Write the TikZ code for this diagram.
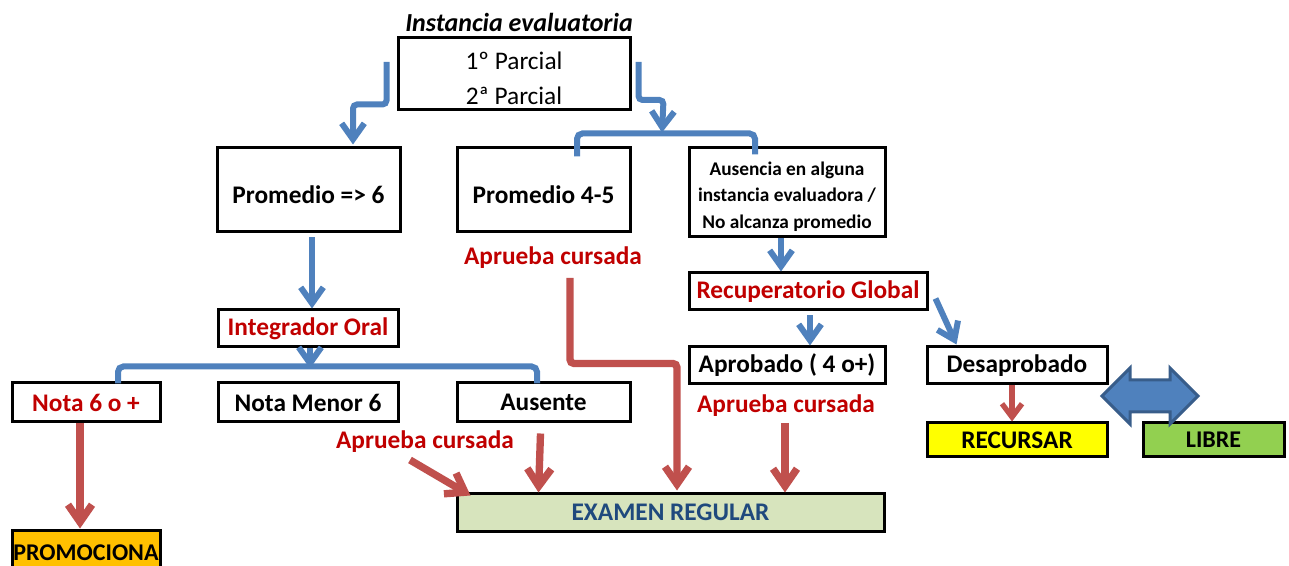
\documentclass[tikz,border=0pt]{standalone}
\usepackage{fontspec}
\setmainfont{Carlito}
\usetikzlibrary{arrows.meta,calc}
\definecolor{bl}{HTML}{4F81BD}
\definecolor{bld}{HTML}{385D8A}
\definecolor{rd}{HTML}{C0504D}
\definecolor{rt}{HTML}{C00000}
\definecolor{dbt}{HTML}{1F497D}
\definecolor{orng}{HTML}{FFC000}
\definecolor{ylw}{HTML}{FFFF00}
\definecolor{grn}{HTML}{92D050}
\definecolor{lgrn}{HTML}{D7E4BD}
\begin{document}
\begin{tikzpicture}[x=0.75pt,y=-0.75pt,
 box/.style={draw=black,line width=2.25pt,inner sep=0pt,font=\fontsize{19}{23}\selectfont\bfseries},
 sz/.style 2 args={minimum width=#1*0.75pt,minimum height=#2*0.75pt},
 lbl/.style={font=\fontsize{19}{23}\selectfont\bfseries,text=rt,inner sep=0pt},
 barrow/.style={draw=bl,line width=4.5pt,-{Straight Barb[length=12pt,width=17pt]}},
 rarrow/.style={draw=rd,line width=5.5pt,-{Straight Barb[length=13pt,width=18pt]}},
 bline/.style={draw=bl,line width=4.5pt,rounded corners=4pt},
]
\useasboundingbox (0,0) rectangle (1289,566);

% top
\node[box,sz={232}{72},font=\fontsize{19}{26.25}\selectfont] (ie) at (514,74)
 {\raisebox{0pt}[\height][\dimexpr\depth-9pt\relax]{\begin{tabular}{@{}c@{}}1º Parcial\\2ª Parcial\end{tabular}}};
\node[inner sep=0pt,font=\fontsize{19.5}{23}\selectfont\bfseries\itshape] (title) at (519,22) {Instancia evaluatoria};

% row 2
\node[box,sz={183}{84}] (p6) at (308.5,190) {\raisebox{0pt}[\dimexpr\height+7.5pt\relax]{Promedio => 6}};
\node[box,sz={173}{84}] (p45) at (543.5,190) {\raisebox{0pt}[\dimexpr\height+7.5pt\relax]{Promedio 4-5}};
\node[box,sz={196}{89},font=\fontsize{14.5}{19.9}\selectfont\bfseries] (aus) at (787,192.5)
 {\raisebox{0pt}[\height][\dimexpr\depth-6pt\relax]{\begin{tabular}{@{}c@{}}Ausencia en alguna\\instancia evaluadora /\\No alcanza promedio\end{tabular}}};
\node[lbl] (ac1) at (553,258) {Aprueba cursada};

% left branch
\node[box,sz={180}{37},text=rt] (io) at (308,328.5) {Integrador Oral};
\node[box,sz={148}{39},text=rt] (n6) at (86,402.5) {Nota 6 o +};
\node[box,sz={180}{39}] (nm6) at (308,402.5) {Nota Menor 6};
\node[box,sz={173}{39}] (au) at (543.5,402.5) {Ausente};
\node[lbl] (ac2) at (425,442) {Aprueba cursada};
\node[box,sz={148}{46},fill=orng,font=\fontsize{18}{22}\selectfont\bfseries] (prom) at (86,553) {PROMOCIONA};
\node[box,sz={427}{38},fill=lgrn,text=dbt,font=\fontsize{19}{23}\selectfont\bfseries] (ex) at (670.5,512) {EXAMEN REGULAR};

% right branch
\node[box,sz={238}{37},text=rt] (rg) at (808,291.5) {Recuperatorio Global};
\node[box,sz={196}{37}] (apr) at (787,365.5) {Aprobado ( 4 o+)};
\node[lbl] (ac3) at (786,406) {Aprueba cursada};
\node[box,sz={180}{37}] (des) at (1017,365.5) {Desaprobado};
\node[box,sz={180}{34},fill=ylw] (rec) at (1017,440) {RECURSAR};
\node[box,sz={141}{34},fill=grn,font=\fontsize{18}{22}\selectfont\bfseries] (lib) at (1213.5,440) {LIBRE};

% blue connectors
\draw[barrow,rounded corners=3pt] ($(ie.west)+(-10,-12)$) |- ($(p6.north)+(44.5,-42)$) -- ($(p6.north)+(44.5,-2)$);
\coordinate (b1) at ($(p45.north)+(118.5,-14)$);
\draw[barrow,rounded corners=3pt] ($(ie.east)+(7,-12)$) |- ($(ie.east)+(32,26)$) -- (b1);
\draw[bline] ($(p45.north)+(33.5,10)$) |- ($(aus.north)+(-32,-13)$) -- ($(aus.north)+(-32,8)$);
\draw[barrow] ($(p6.south)+(3.5,4)$) -- ($(io.north)+(4,0)$);
\draw[barrow] ($(io.south)+(2,0)$) -- ($(io.south)+(2,20)$);
\draw[bline] ($(n6.north)+(32,2)$) |- ($(au.north)+(-6.5,-15)$) -- ($(au.north)+(-6.5,2)$);
\draw[barrow] ($(aus.south)+(-6,0)$) -- ($(rg.north)+(-27,0)$);
\draw[barrow] ($(rg.south)+(2,4)$) -- ($(apr.north)+(23,0)$);
\draw[barrow] ($(rg.east)+(7,7)$) -- ($(des.north west)+(31,-1)$);

% red connectors
\draw[rarrow] ($(n6.south)+(-6,0)$) -- ($(prom.north)+(-6,0)$);
\draw[rarrow] ($(ac2)+(-15,18)$) -- ($(ex.north west)+(15,4)$);
\draw[rarrow] ($(au.south)+(-3,10)$) -- ($(ex.north west)+(83,1)$);
\draw[rarrow,rounded corners=3pt] ($(ac1)+(17,20)$) |- ($(ex.north)+(6.5,-128)$) -- ($(ex.north)+(6.5,-1)$);
\draw[rarrow] ($(ac3)+(-1,17)$) -- ($(ex.north)+(114.5,1)$);
\draw[draw=rd,line width=4pt,-{Straight Barb[length=10pt,width=15pt]}] ($(des.south)+(-5,0)$) -- ($(rec.north)+(-5,0)$);

% double arrow
\draw[fill=bl,draw=bld,line width=2.25pt,line join=miter]
 (1102,396) -- (1130,368) -- (1130,380) -- (1170,380) -- (1170,368) -- (1198,396)
 -- (1170,424) -- (1170,412) -- (1130,412) -- (1130,424) -- cycle;
\end{tikzpicture}
\end{document}
